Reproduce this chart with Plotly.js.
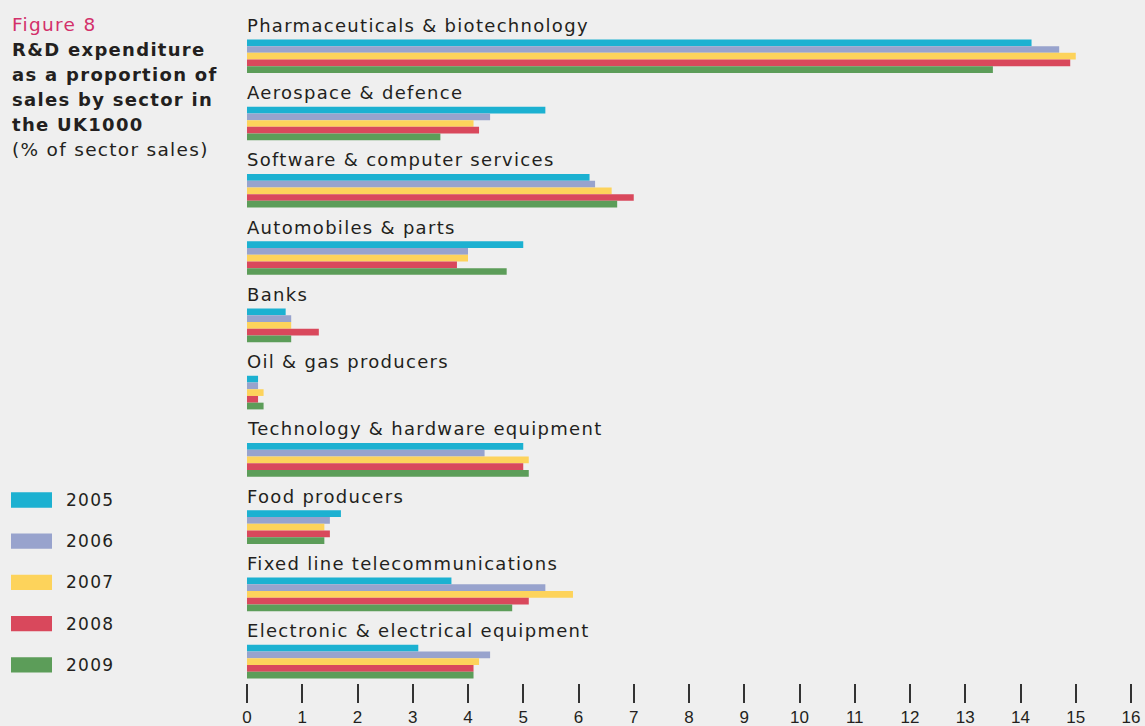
<!DOCTYPE html>
<html>
<head>
<meta charset="utf-8">
<script src="https://cdn.plot.ly/plotly-3.0.1.min.js"></script>
<style>
  html, body { margin: 0; padding: 0; background: #efefef; }
  #chart { width: 1145px; height: 726px; }
  .annotation-text { letter-spacing: 1.3px; }
</style>
</head>
<body>
<div id="chart"></div>
<script>
// ---- data ----
const sectors = [
  "Pharmaceuticals & biotechnology",
  "Aerospace & defence",
  "Software & computer services",
  "Automobiles & parts",
  "Banks",
  "Oil & gas producers",
  "Technology & hardware equipment",
  "Food producers",
  "Fixed line telecommunications",
  "Electronic & electrical equipment"
];
const years = ["2005", "2006", "2007", "2008", "2009"];
const values2005 = [14.2, 5.4, 6.2, 5.0, 0.7, 0.2, 5.0, 1.7, 3.7, 3.1];
const values2006 = [14.7, 4.4, 6.3, 4.0, 0.8, 0.2, 4.3, 1.5, 5.4, 4.4];
const values2007 = [15.0, 4.1, 6.6, 4.0, 0.8, 0.3, 5.1, 1.4, 5.9, 4.2];
const values2008 = [14.9, 4.2, 7.0, 3.8, 1.3, 0.2, 5.0, 1.5, 5.1, 4.1];
const values2009 = [13.5, 3.5, 6.7, 4.7, 0.8, 0.3, 5.1, 1.4, 4.8, 4.1];
const xTicks = [0, 1, 2, 3, 4, 5, 6, 7, 8, 9, 10, 11, 12, 13, 14, 15, 16];
const titleLines = ["R&D expenditure", "as a proportion of", "sales by sector in", "the UK1000"];
const subtitle = "(% of sector sales)";
const figureLabel = "Figure 8";

// ---- styles ----
const colors = ["#1cb1d1", "#98a3cd", "#fdd35b", "#d9485c", "#5c9d59"];
const seriesValues = [values2005, values2006, values2007, values2008, values2009];
const textColor = "#231f20";
const FONT = "DejaVu Sans, Verdana, sans-serif";
const TICKFONT = "Liberation Sans Narrow, Arial Narrow, Liberation Sans, Arial, sans-serif";

// layout geometry (pixels)
const W = 1145, H = 726;
const mL = 247, mR = 14, mT = 10, mB = 43;
const plotW = W - mL - mR, plotH = H - mT - mB;
const px2paperX = px => (px - mL) / plotW;
const py2paperY = py => (H - mB - py) / plotH;

const traces = years.map((yr, i) => ({
  type: "bar",
  orientation: "h",
  name: yr,
  y: sectors,
  x: seriesValues[i],
  marker: { color: colors[i], line: { width: 0 } },
  hoverinfo: "x+name"
}));

const annotations = [];
// sector labels above each group
sectors.forEach(s => {
  annotations.push({
    xref: "x", yref: "y", x: 0, y: s,
    xanchor: "left", yanchor: "middle",
    xshift: -2, yshift: 31,
    showarrow: false,
    text: s,
    font: { family: FONT, size: 18, color: textColor }
  });
});
// left title block
const lineStep = 25, firstBase = 30.7;
annotations.push({
  xref: "paper", yref: "paper",
  x: px2paperX(10), y: py2paperY(firstBase - 6.4),
  xanchor: "left", yanchor: "middle", showarrow: false,
  text: figureLabel,
  font: { family: FONT, size: 18.5, color: "#d3306a" }
});
titleLines.forEach((t, i) => {
  annotations.push({
    xref: "paper", yref: "paper",
    x: px2paperX(10), y: py2paperY(firstBase + lineStep * (i + 1) - 6.2),
    xanchor: "left", yanchor: "middle", showarrow: false,
    text: "<b>" + t + "</b>",
    font: { family: FONT, size: 18, color: textColor }
  });
});
annotations.push({
  xref: "paper", yref: "paper",
  x: px2paperX(10), y: py2paperY(firstBase + lineStep * 5 - 6.4),
  xanchor: "left", yanchor: "middle", showarrow: false,
  text: subtitle,
  font: { family: FONT, size: 18.5, color: textColor }
});

// custom legend
const shapes = [];
const legTop = 500, legStep = 41.2, swH = 15.3;
years.forEach((yr, i) => {
  const cy = legTop + legStep * i;
  shapes.push({
    type: "rect", xref: "paper", yref: "paper",
    x0: px2paperX(11), x1: px2paperX(52),
    y0: py2paperY(cy - swH / 2), y1: py2paperY(cy + swH / 2),
    fillcolor: colors[i], line: { width: 0 }
  });
  annotations.push({
    xref: "paper", yref: "paper",
    x: px2paperX(64), y: py2paperY(cy),
    xanchor: "left", yanchor: "middle", showarrow: false,
    text: yr,
    font: { family: FONT, size: 17, color: textColor }
  });
});

const layout = {
  width: W, height: H,
  margin: { l: mL, r: mR, t: mT, b: mB, pad: 0 },
  paper_bgcolor: "#efefef",
  plot_bgcolor: "#efefef",
  barmode: "group",
  bargap: 0.5,
  bargroupgap: 0,
  showlegend: false,
  font: { family: FONT, color: textColor },
  xaxis: {
    range: [0, 16],
    tickmode: "array",
    tickvals: xTicks,
    ticktext: xTicks.map(String),
    ticks: "outside",
    ticklen: 19,
    tickwidth: 1.8,
    tickcolor: "#333333",
    showline: false,
    showgrid: false,
    zeroline: false,
    tickfont: { family: TICKFONT, size: 17, color: textColor },
    fixedrange: true
  },
  yaxis: {
    type: "category",
    categoryorder: "array",
    categoryarray: sectors,
    range: [9.317, -0.687],
    autorange: false,
    showticklabels: false,
    ticks: "",
    showgrid: false,
    zeroline: false,
    showline: false,
    fixedrange: true
  },
  annotations: annotations,
  shapes: shapes
};

Plotly.newPlot("chart", traces, layout, { displayModeBar: false, responsive: false });
</script>
</body>
</html>
